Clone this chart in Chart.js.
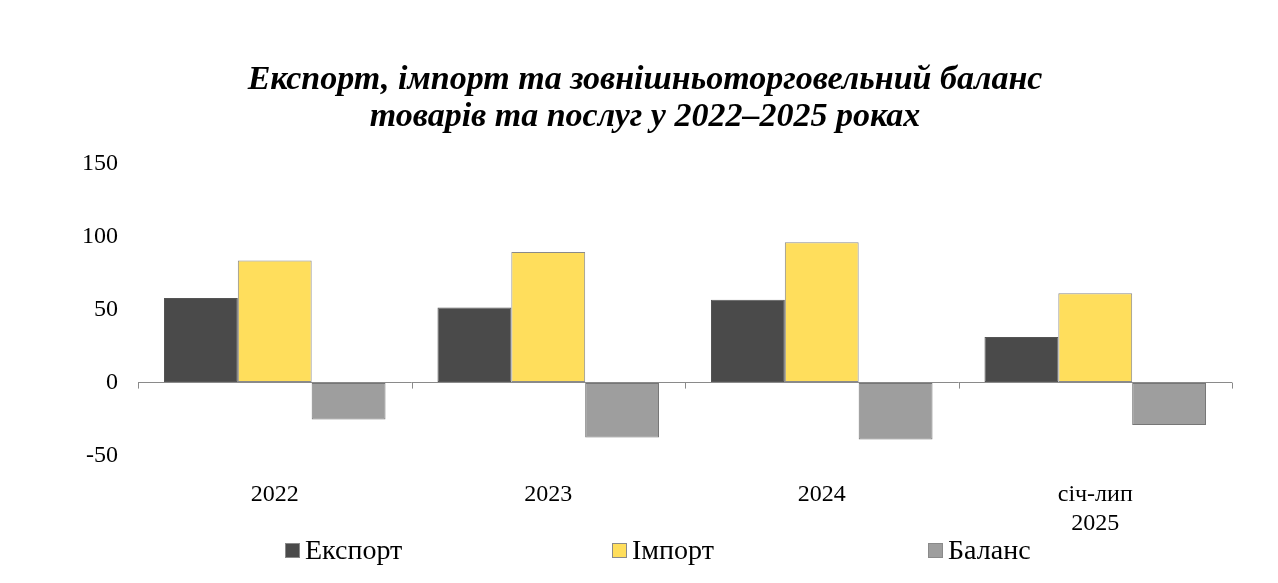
<!DOCTYPE html>
<html>
<head>
<meta charset="utf-8">
<script src="https://cdn.jsdelivr.net/npm/chart.js@4"></script>
<style>
  body { margin: 0; background: #fff; }
  #wrap { position: relative; width: 1278px; height: 583px; }
  #legenda { position: absolute; left: 0; top: 534px; width: 1278px; height: 34px;
    font-family: "Liberation Serif", "Times New Roman", serif; font-size: 28px; color: #000; }
  #legenda span.item { position: absolute; top: 0; white-space: nowrap; }
  #legenda span.caja { display: inline-block; width: 13px; height: 13px; margin-right: 5px;
    border: 1px solid #8a8a8a; vertical-align: 1px; }
</style>
</head>
<body>
<div id="wrap">
  <canvas id="myChart" width="1278" height="583"></canvas>
  <div id="legenda"></div>
</div>
<script>
/* datos del grafico */
const categorias = ["2022", "2023", "2024", ["січ-лип", "2025"]];
const exportacion = [58.0, 51.6, 56.8, 31.3];
const importacion = [83.8, 89.7, 96.3, 61.4];
const balance = [-25.3, -37.7, -39.0, -29.2];
const marcas_y = [150, 100, 50, 0, -50];

const nombres = ["Експорт", "Імпорт", "Баланс"];
const colores = ["#4a4a4a", "#ffde5c", "#9e9e9e"];
const fuente = "'Liberation Serif', 'Times New Roman', serif";

/* marcas en la linea del cero entre categorias */
const marcasCero = {
    id: "marcasCero",
    afterDatasetsDraw(chart) {
        const ctx = chart.ctx;
        const x = chart.scales.x;
        const y0 = chart.scales.y.getPixelForValue(0);
        const mitad = (x.getPixelForValue(1) - x.getPixelForValue(0)) / 2;
        ctx.save();
        ctx.strokeStyle = "#8a8a8a";
        ctx.lineWidth = 1;
        for (let i = 0; i <= categorias.length; i++) {
            const px = Math.round(x.getPixelForValue(i) - mitad) + 0.5;
            ctx.beginPath();
            ctx.moveTo(px, y0);
            ctx.lineTo(px, y0 + 6);
            ctx.stroke();
        }
        ctx.restore();
    }
};

const series = [exportacion, importacion, balance];
const datasets = series.map((valores, i) => ({
    label: nombres[i],
    data: valores,
    backgroundColor: colores[i],
    borderColor: i === 0 ? "#555555" : (i === 1 ? "#8a8a8a" : "#767676"),
    borderWidth: 1,
    borderSkipped: false,
    categoryPercentage: 0.81,
    barPercentage: 1.0
}));

const config = {
    type: "bar",
    data: { labels: categorias, datasets },
    options: {
        responsive: false,
        animation: false,
        layout: { padding: { top: 0, left: 58, right: 46, bottom: 28 } },
        plugins: {
            legend: { display: false },
            tooltip: { enabled: false },
            title: {
                display: true,
                text: ["Експорт, імпорт та зовнішньоторговельний баланс", "товарів та послуг у 2022–2025 роках"],
                color: "#000",
                font: { family: fuente, size: 34, weight: "bold", style: "italic", lineHeight: 1.09 },
                padding: { top: 62, bottom: 28 }
            }
        },
        scales: {
            x: {
                grid: { display: false },
                border: { display: false },
                ticks: {
                    color: "#000",
                    font: { family: fuente, size: 24 },
                    padding: 17,
                    maxRotation: 0
                }
            },
            y: {
                min: -50,
                max: 150,
                afterFit: (s) => { s.width = 80; },
                afterBuildTicks: (s) => { s.ticks = marcas_y.map(v => ({ value: v })); },
                grid: {
                    drawTicks: false,
                    color: (c) => (c.tick && c.tick.value === 0 ? "#8a8a8a" : "rgba(0,0,0,0)")
                },
                border: { display: false },
                ticks: {
                    color: "#000",
                    font: { family: fuente, size: 24 },
                    padding: 20
                }
            }
        }
    },
    plugins: [marcasCero]
};

const ctx = document.getElementById("myChart").getContext("2d");
const myChart = new Chart(ctx, config);

/* leyenda */
const posiciones = [285, 612, 928];
const legenda = document.querySelector("#legenda");
nombres.forEach((n, i) => {
    const item = document.createElement("span");
    item.className = "item";
    item.style.left = posiciones[i] + "px";
    item.innerHTML = '<span class="caja" style="background:' + colores[i] + '"></span>' + n;
    legenda.appendChild(item);
});
</script>
</body>
</html>
